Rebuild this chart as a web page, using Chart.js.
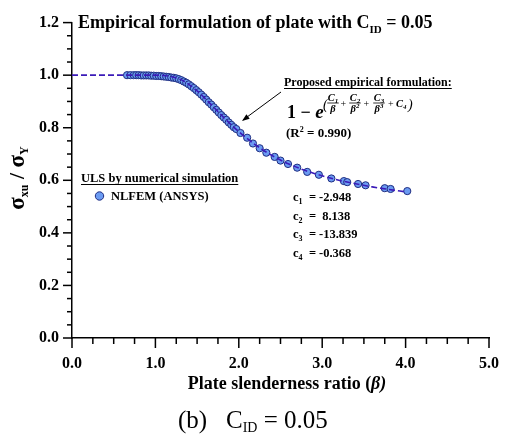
<!DOCTYPE html>
<html>
<head>
<meta charset="utf-8">
<script src="https://cdn.jsdelivr.net/npm/chart.js@4.4.1/dist/chart.umd.min.js"></script>
<style>
  html, body { margin: 0; padding: 0; background: #fff; }
  #wrap { width: 515px; height: 436px; }
</style>
</head>
<body>
<div id="wrap"><canvas id="chart" width="515" height="436"></canvas></div>
<script>
// Points NLFEM (ANSYS)
const betaPts = [0.66, 0.70, 0.74, 0.77, 0.80, 0.83, 0.86, 0.89, 0.92, 0.95, 0.98, 1.01, 1.04, 1.07, 1.10,
  1.13, 1.16, 1.19, 1.22, 1.25, 1.28, 1.31, 1.34, 1.37, 1.40, 1.43, 1.46, 1.49, 1.52, 1.55, 1.58, 1.61,
  1.64, 1.67, 1.70, 1.73, 1.76, 1.79, 1.82, 1.85, 1.88, 1.91, 1.94, 1.97, 2.02, 2.10, 2.17, 2.25, 2.33,
  2.43, 2.50, 2.59, 2.70, 2.82, 2.96, 3.11, 3.26, 3.30, 3.43, 3.52, 3.75, 3.82, 4.02];
const ratioPts = [1.000, 1.000, 1.000, 1.000, 1.000, 0.999, 0.999, 0.999, 0.999, 0.998, 0.998, 0.997, 0.997, 0.996, 0.995,
  0.994, 0.993, 0.991, 0.990, 0.988, 0.985, 0.981, 0.976, 0.971, 0.965, 0.958, 0.951, 0.943, 0.935, 0.926, 0.917, 0.907,
  0.897, 0.888, 0.878, 0.868, 0.858, 0.848, 0.839, 0.830, 0.820, 0.811, 0.802, 0.795, 0.780, 0.762, 0.740, 0.722, 0.705,
  0.689, 0.675, 0.662, 0.648, 0.632, 0.621, 0.607, 0.597, 0.593, 0.586, 0.581, 0.570, 0.567, 0.559];

// Courbe empirique (tirets)
const betaFit = [0, 0.5, 1.0, 1.1, 1.2, 1.3, 1.4, 1.5, 1.6, 1.7, 1.8, 1.9, 2.0, 2.2, 2.4, 2.6, 2.8, 3.0, 3.2, 3.4, 3.6, 3.8, 4.0];
const ratioFit = [1.0, 1.0, 1.0, 0.999, 0.994, 0.984, 0.965, 0.940, 0.910, 0.878, 0.845, 0.814, 0.785, 0.735, 0.694, 0.662,
  0.637, 0.617, 0.600, 0.587, 0.575, 0.565, 0.556];

// Axes
const xTicks = [0, 1, 2, 3, 4, 5];
const yTicks = [0, 0.2, 0.4, 0.6, 0.8, 1.0, 1.2];

const coefLabels = ['1', '2', '3', '4'];
const coefValues = ['-2.948', ' 8.138', '-13.839', '-0.368'];

const serif = '"Liberation Serif", "Times New Roman", serif';

// petite fonction pour écrire du texte avec indice
function textSub(ctx, x, y, main, sub, size, subSize, bold) {
    const w = bold ? 'bold ' : '';
    ctx.font = w + size + 'px ' + serif;
    ctx.fillText(main, x, y);
    x += ctx.measureText(main).width;
    ctx.font = w + subSize + 'px ' + serif;
    ctx.fillText(sub, x, y + size * 0.25);
    return x + ctx.measureText(sub).width;
}

// fraction de l'exposant (C_i / beta^i)
function frac(ctx, cx, yBar, num, sub, den, sup) {
    const big = 'italic bold 10.5px ' + serif, small = 'italic bold 7px ' + serif;
    ctx.font = big;
    const wn = ctx.measureText(num).width;
    ctx.font = small;
    const ws = ctx.measureText(sub).width;
    const totN = wn + ws;
    ctx.font = big;
    ctx.fillText(num, cx - totN / 2, yBar - 2);
    ctx.font = small;
    ctx.fillText(sub, cx - totN / 2 + wn, yBar - 0.5);
    ctx.font = big;
    const wd = ctx.measureText(den).width;
    ctx.font = small;
    const wsp = sup ? ctx.measureText(sup).width : 0;
    const totD = wd + wsp;
    ctx.font = big;
    ctx.fillText(den, cx - totD / 2, yBar + 9);
    if (sup) {
        ctx.font = small;
        ctx.fillText(sup, cx - totD / 2 + wd, yBar + 5);
    }
    const w = Math.max(totN, totD) + 1;
    ctx.beginPath();
    ctx.lineWidth = 0.8;
    ctx.moveTo(cx - w / 2, yBar);
    ctx.lineTo(cx + w / 2, yBar);
    ctx.stroke();
}

const decor = {
    id: 'decor',
    afterDraw(chart) {
        const ctx = chart.ctx;
        const xs = chart.scales.x, ys = chart.scales.y;
        const area = chart.chartArea;
        ctx.save();
        ctx.strokeStyle = '#000';
        ctx.fillStyle = '#000';
        ctx.lineWidth = 1.5;

        // graduations x
        for (let i = 0; i <= 20; i++) {
            const v = i * 0.25;
            const px = xs.getPixelForValue(v);
            const len = (i % 4 === 0) ? 10 : 6;
            ctx.beginPath();
            ctx.moveTo(px, area.bottom);
            ctx.lineTo(px, area.bottom + len);
            ctx.stroke();
        }
        // graduations y
        for (let i = 0; i <= 24; i++) {
            const v = i * 0.05;
            const py = ys.getPixelForValue(v);
            const len = (i % 4 === 0) ? 9 : 5;
            ctx.beginPath();
            ctx.moveTo(area.left - len, py);
            ctx.lineTo(area.left, py);
            ctx.stroke();
        }

        ctx.textBaseline = 'alphabetic';
        ctx.textAlign = 'left';

        // titre
        let x = textSub(ctx, 78, 28, 'Empirical formulation of plate with C', 'ID', 18, 11, true);
        ctx.font = 'bold 18px ' + serif;
        ctx.fillText(' = 0.05', x, 28);

        // formule proposée
        ctx.font = 'bold 12px ' + serif;
        const t1 = 'Proposed empirical formulation:';
        ctx.fillText(t1, 284, 86);
        let w1 = ctx.measureText(t1).width;
        ctx.lineWidth = 1;
        ctx.beginPath();
        ctx.moveTo(284, 88.5);
        ctx.lineTo(284 + w1, 88.5);
        ctx.stroke();

        ctx.font = 'bold 18px ' + serif;
        ctx.fillText('1 \u2212 ', 287, 118);
        let xe = 287 + ctx.measureText('1 \u2212 ').width;
        ctx.font = 'bold italic 19px ' + serif;
        ctx.fillText('e', xe, 118);
        ctx.font = 'italic 14px ' + serif;
        ctx.fillText('(', 323, 109);
        frac(ctx, 333, 103, 'C', '1', '\u03b2', '');
        ctx.font = '10px ' + serif;
        ctx.fillText('+', 340.5, 107);
        frac(ctx, 355, 103, 'C', '2', '\u03b2', '2');
        ctx.font = '10px ' + serif;
        ctx.fillText('+', 363.5, 107);
        frac(ctx, 379, 103, 'C', '3', '\u03b2', '3');
        ctx.font = '10px ' + serif;
        ctx.fillText('+', 388, 107);
        ctx.font = 'italic bold 10.5px ' + serif;
        ctx.fillText('C', 396, 107);
        ctx.font = 'italic bold 7px ' + serif;
        ctx.fillText('4', 403, 109);
        ctx.font = 'italic 14px ' + serif;
        ctx.fillText(')', 408, 109);

        ctx.font = 'bold 13px ' + serif;
        ctx.fillText('(R', 286, 137);
        let xr = 286 + ctx.measureText('(R').width;
        ctx.font = 'bold 8px ' + serif;
        ctx.fillText('2', xr, 132);
        xr += ctx.measureText('2').width;
        ctx.font = 'bold 13px ' + serif;
        ctx.fillText(' = 0.990)', xr, 137);

        // flèche
        ctx.lineWidth = 1;
        ctx.beginPath();
        ctx.moveTo(281, 92);
        ctx.lineTo(243, 120);
        ctx.stroke();
        const ang = Math.atan2(120 - 92, 243 - 281);
        ctx.beginPath();
        ctx.moveTo(242, 121);
        ctx.lineTo(242 - 8 * Math.cos(ang - 0.35), 121 - 8 * Math.sin(ang - 0.35));
        ctx.lineTo(242 - 8 * Math.cos(ang + 0.35), 121 - 8 * Math.sin(ang + 0.35));
        ctx.closePath();
        ctx.fill();

        // coefficients
        for (let i = 0; i < coefLabels.length; i++) {
            const yb = 201 + i * 18.6;
            textSub(ctx, 293, yb, 'c', coefLabels[i], 12.5, 8, true);
            ctx.font = 'bold 12.5px ' + serif;
            ctx.fillText('=', 309, yb);
            ctx.fillText(coefValues[i], 319, yb);
        }

        // légende
        ctx.font = 'bold 12.5px ' + serif;
        const t2 = 'ULS by numerical simulation';
        ctx.fillText(t2, 81, 182);
        const w2 = ctx.measureText(t2).width;
        ctx.beginPath();
        ctx.moveTo(81, 184.5);
        ctx.lineTo(81 + w2, 184.5);
        ctx.stroke();
        ctx.beginPath();
        ctx.arc(99.5, 196, 4.2, 0, Math.PI * 2);
        ctx.fillStyle = '#6b9bf2';
        ctx.fill();
        ctx.strokeStyle = '#1f2d80';
        ctx.stroke();
        ctx.fillStyle = '#000';
        ctx.strokeStyle = '#000';
        ctx.fillText('NLFEM (ANSYS)', 111, 200);

        // titre axe x
        ctx.font = 'bold 18px ' + serif;
        const tx = 'Plate slenderness ratio (';
        const wtx = ctx.measureText(tx).width;
        ctx.font = 'bold italic 18px ' + serif;
        const wb = ctx.measureText('\u03b2)').width;
        const x0 = 287 - (wtx + wb) / 2;
        ctx.font = 'bold 18px ' + serif;
        ctx.fillText(tx, x0, 389);
        ctx.font = 'bold italic 18px ' + serif;
        ctx.fillText('\u03b2)', x0 + wtx, 389);

        // légende (b)
        ctx.font = '25px ' + serif;
        ctx.fillText('(b)', 178, 428);
        ctx.fillText('C', 226, 428);
        let xc = 226 + ctx.measureText('C').width;
        ctx.font = '14px ' + serif;
        ctx.fillText('ID', xc, 432);
        xc += ctx.measureText('ID').width;
        ctx.font = '25px ' + serif;
        ctx.fillText(' = 0.05', xc, 428);

        // titre axe y
        ctx.translate(24, 178);
        ctx.rotate(-Math.PI / 2);
        const parts = [['\u03c3', 'bold 23px ', 0], ['xu', 'bold 12px ', 4], [' / ', 'bold 22px ', 0], ['\u03c3', 'bold 23px ', 0], ['Y', 'bold 12px ', 4]];
        let total = 0;
        for (const p of parts) { ctx.font = p[1] + serif; total += ctx.measureText(p[0]).width; }
        let xx = -total / 2;
        for (const p of parts) {
            ctx.font = p[1] + serif;
            ctx.fillText(p[0], xx, p[2]);
            xx += ctx.measureText(p[0]).width;
        }
        ctx.restore();
    }
};

const fitData = betaFit.map((b, i) => ({ x: b, y: ratioFit[i] }));
const ptsData = betaPts.map((b, i) => ({ x: b, y: ratioPts[i] }));

const tickFont = { family: serif, weight: 'bold', size: 16 };

new Chart(document.getElementById('chart'), {
    type: 'scatter',
    data: {
        datasets: [{
            label: 'Empirical formulation',
            data: fitData,
            showLine: true,
            borderColor: '#3b1bb8',
            borderWidth: 1.6,
            borderDash: [6, 3],
            pointRadius: 0,
            cubicInterpolationMode: 'monotone',
            fill: false
        }, {
            label: 'NLFEM (ANSYS)',
            data: ptsData,
            pointRadius: 3.6,
            pointBackgroundColor: '#6b9bf2',
            pointBorderColor: '#1f2d80',
            pointBorderWidth: 1,
            showLine: false
        }]
    },
    options: {
        responsive: false,
        animation: false,
        events: [],
        layout: { padding: { left: 0, right: 11, top: 15, bottom: 0 } },
        plugins: { legend: { display: false }, tooltip: { enabled: false } },
        scales: {
            x: {
                type: 'linear', min: 0, max: 5,
                afterFit: function (s) { s.height = 98; },
                afterBuildTicks: function (s) { s.ticks = xTicks.map(v => ({ value: v })); },
                ticks: { callback: v => v.toFixed(1), font: tickFont, color: '#000', padding: 16, autoSkip: false, maxRotation: 0 },
                grid: { display: false, drawTicks: false },
                border: { display: true, color: '#000', width: 1.5 }
            },
            y: {
                type: 'linear', min: 0, max: 1.2,
                afterFit: function (s) { s.width = 72; },
                afterBuildTicks: function (s) { s.ticks = yTicks.map(v => ({ value: v })); },
                ticks: { callback: v => v.toFixed(1), font: tickFont, color: '#000', padding: 13, autoSkip: false },
                grid: { display: false, drawTicks: false },
                border: { display: true, color: '#000', width: 1.5 }
            }
        }
    },
    plugins: [decor]
});
</script>
</body>
</html>
